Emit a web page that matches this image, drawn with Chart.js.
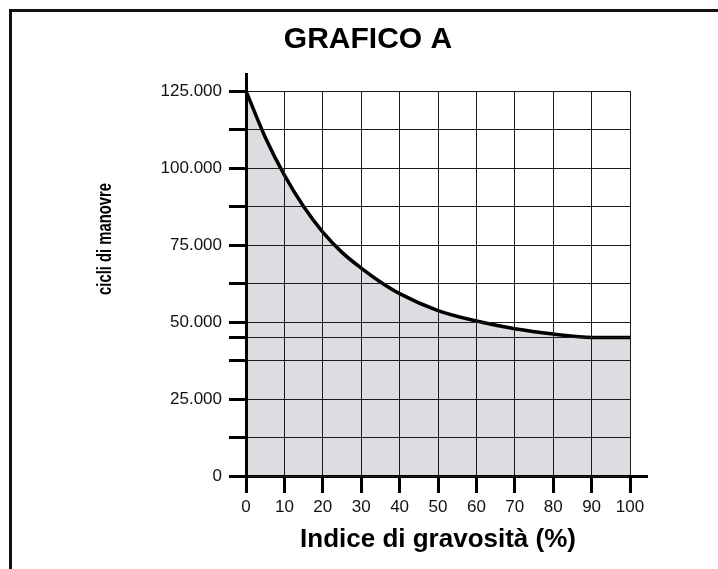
<!DOCTYPE html>
<html>
<head>
<meta charset="utf-8">
<title>Grafico A</title>
<script src="https://cdn.jsdelivr.net/npm/chart.js@4.4.1/dist/chart.umd.min.js"></script>
<style>
  html, body { margin: 0; padding: 0; background: #fff; }
  body { width: 718px; height: 569px; position: relative; overflow: hidden; }
  #frame { position: absolute; left: 9px; top: 9px; right: -10px; bottom: -10px;
           border-top: 3px solid #111; border-left: 3px solid #111; }
  #wrap { position: absolute; left: 18px; top: 0; width: 700px; height: 569px; }
</style>
</head>
<body>
<div id="frame"></div>
<div id="wrap"><canvas id="graficoA" width="700" height="569"></canvas></div>
<script>
const titleText = 'GRAFICO A';
const xTitle = 'Indice di gravosità (%)';
const yTitle = 'cicli di manovre';

// curva
const gravosita = [0, 5, 10, 15, 20, 25, 30, 35, 40, 50, 60, 70, 80, 90, 100];
const cicli = [125000, 110000, 97700, 87500, 79200, 72600, 67500, 63000, 59200, 53700, 50300, 47800, 46100, 45000, 45000];

const xTickValues = [0, 10, 20, 30, 40, 50, 60, 70, 80, 90, 100];
const xTickLabels = ['0', '10', '20', '30', '40', '50', '60', '70', '80', '90', '100'];
const yGridValues = [0, 12500, 25000, 37500, 45000, 50000, 62500, 75000, 87500, 100000, 112500, 125000];
const yTickValues = [0, 25000, 50000, 75000, 100000, 125000];
const yTickLabels = ['0', '25.000', '50.000', '75.000', '100.000', '125.000'];

const FONT = "'Liberation Sans', Arial, Helvetica, sans-serif";
const ink = '#000';

// titolo, prolunghe degli assi e titolo dell'asse y
const extras = {
  id: 'extras',
  afterDraw(chart) {
    const { ctx, chartArea: a } = chart;
    const al = v => Math.round(v - 1.5) + 1.5;
    ctx.save();
    ctx.strokeStyle = ink;
    ctx.lineWidth = 3;
    ctx.beginPath();
    ctx.moveTo(al(a.left), a.top + 1);
    ctx.lineTo(al(a.left), a.top - 18);
    ctx.moveTo(a.right - 1, al(a.bottom));
    ctx.lineTo(a.right + 18, al(a.bottom));
    ctx.stroke();

    ctx.fillStyle = ink;
    ctx.textAlign = 'center';
    ctx.textBaseline = 'middle';
    ctx.font = 'bold 30px ' + FONT;
    ctx.fillText(titleText, chart.width / 2, 40);

    ctx.translate(a.left - 141, a.top + 148);
    ctx.rotate(-Math.PI / 2);
    ctx.scale(0.74, 1);
    ctx.font = 'bold 20px ' + FONT;
    ctx.fillText(yTitle, 0, 0);
    ctx.restore();
  }
};

const ctx = document.getElementById('graficoA').getContext('2d');

new Chart(ctx, {
  type: 'line',
  data: {
    datasets: [{
      data: gravosita.map((g, i) => ({ x: g, y: cicli[i] })),
      borderColor: ink,
      borderWidth: 3.5,
      backgroundColor: '#dcdde0',
      fill: 'origin',
      pointRadius: 0,
      cubicInterpolationMode: 'monotone'
    }]
  },
  options: {
    responsive: false,
    animation: false,
    devicePixelRatio: 1,
    layout: { padding: { left: 0, right: 88, top: 91, bottom: 0 } },
    plugins: {
      legend: { display: false },
      tooltip: { enabled: false },
      title: { display: false }
    },
    scales: {
      x: {
        type: 'linear',
        min: 0,
        max: 100,
        afterFit: s => { s.height = 93; },
        afterBuildTicks: s => { s.ticks = xTickValues.map(v => ({ value: v })); },
        grid: { color: '#1a1a1a', lineWidth: 1, tickColor: ink, tickWidth: 3, tickLength: 17, z: 1 },
        border: { display: true, color: ink, width: 3, z: 1 },
        ticks: {
          autoSkip: false,
          maxRotation: 0,
          padding: 4,
          color: '#111',
          font: { family: FONT, size: 17 },
          callback: v => xTickLabels[xTickValues.indexOf(v)]
        },
        title: {
          display: true,
          text: xTitle,
          color: ink,
          font: { family: FONT, size: 26, weight: 'bold' },
          padding: { top: 0, bottom: 14 }
        }
      },
      y: {
        type: 'linear',
        min: 0,
        max: 125000,
        afterFit: s => { s.width = 228; },
        afterBuildTicks: s => { s.ticks = yGridValues.map(v => ({ value: v })); },
        grid: { color: '#1a1a1a', lineWidth: 1, tickColor: ink, tickWidth: 3, tickLength: 17, z: 1 },
        border: { display: true, color: ink, width: 3, z: 1 },
        ticks: {
          autoSkip: false,
          padding: 7,
          color: '#111',
          font: { family: FONT, size: 17 },
          callback: v => {
            const i = yTickValues.indexOf(v);
            return i >= 0 ? yTickLabels[i] : '';
          }
        }
      }
    }
  },
  plugins: [extras]
});
</script>
</body>
</html>
